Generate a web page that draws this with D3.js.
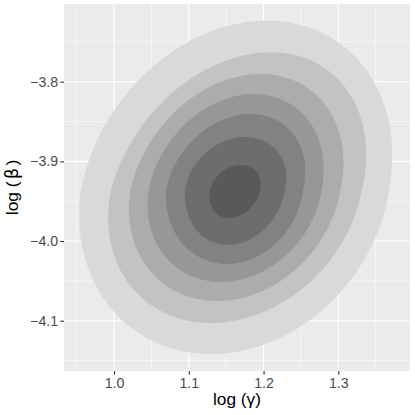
<!DOCTYPE html>
<html><head><meta charset="utf-8">
<script src="https://cdn.jsdelivr.net/npm/d3@7"></script>
<style>html,body{margin:0;padding:0;background:#fff;}</style>
</head><body>
<script>
// ---- data ----
const xTicks = [1.0, 1.1, 1.2, 1.3];
const yTicks = [-3.8, -3.9, -4.0, -4.1];
const xMinor = [0.95, 1.05, 1.15, 1.25, 1.35];
const yMinor = [-3.75, -3.85, -3.95, -4.05, -4.15];
const xTitle = "log (γ)";
const yTitle = "log (β)";
const levelFills = ["#d9d9d9","#c3c3c3","#acacac","#979797","#828282","#6d6d6d","#595959"];

// density contour levels, outermost first (data units): top-most point,
// bottom-most point, centre and half-width of the widest horizontal chord
const topX     = [1.2046, 1.2096, 1.1962, 1.1872, 1.1828, 1.1752, 1.1695];
const topY     = [-3.7234, -3.7631, -3.7903, -3.8154, -3.8405, -3.8694, -3.9046];
const bottomX  = [1.1297, 1.1297, 1.1378, 1.1431, 1.1511, 1.1525, 1.1538];
const bottomY  = [-4.1418, -4.1029, -4.0753, -4.0514, -4.0288, -4.0050, -3.9711];
const widestX  = [1.1618, 1.1632, 1.1624, 1.1621, 1.1618, 1.1625, 1.1621];
const widestY  = [-3.9359, -3.9384, -3.9359, -3.9359, -3.9334, -3.9322, -3.9359];
const halfWidth = [0.2060, 0.1678, 0.1404, 0.1157, 0.0916, 0.0669, 0.0334];

// ---- layout ----
const W = 415, H = 415;
const m = {left: 64, right: 5, top: 4, bottom: 44};
const pw = W - m.left - m.right, ph = H - m.top - m.bottom;

const x = d3.scaleLinear().domain([0.9331, 1.3959]).range([0, pw]);
const y = d3.scaleLinear().domain([-4.1631, -3.7025]).range([ph, 0]);

const svg = d3.select("body").append("svg").attr("width", W).attr("height", H)
  .style("font-family", "Liberation Sans, Arial, sans-serif");
const g = svg.append("g").attr("transform", `translate(${m.left},${m.top})`);

svg.append("defs").append("clipPath").attr("id","clip")
  .append("rect").attr("width", pw).attr("height", ph);

g.append("rect").attr("width", pw).attr("height", ph).attr("fill", "#ebebeb");

const grid = g.append("g");
grid.selectAll(".xm").data(xMinor).join("line")
  .attr("x1", d => x(d)).attr("x2", d => x(d)).attr("y1", 0).attr("y2", ph)
  .attr("stroke", "#fff").attr("stroke-width", 0.55);
grid.selectAll(".ym").data(yMinor).join("line")
  .attr("y1", d => y(d)).attr("y2", d => y(d)).attr("x1", 0).attr("x2", pw)
  .attr("stroke", "#fff").attr("stroke-width", 0.55);
grid.selectAll(".xM").data(xTicks).join("line")
  .attr("x1", d => x(d)).attr("x2", d => x(d)).attr("y1", 0).attr("y2", ph)
  .attr("stroke", "#fff").attr("stroke-width", 1.1);
grid.selectAll(".yM").data(yTicks).join("line")
  .attr("y1", d => y(d)).attr("y2", d => y(d)).attr("x1", 0).attr("x2", pw)
  .attr("stroke", "#fff").attr("stroke-width", 1.1);

// outline of one level: horizontal chords, half-elliptic above and below
// the widest chord, centred on the path top point -> widest centre -> bottom point
function outline(i) {
  const pts = [];
  const n = 144;
  const hTop = topY[i] - widestY[i], hBot = widestY[i] - bottomY[i];
  for (let k = 0; k < n; k++) {
    const a = -Math.PI / 2 + 2 * Math.PI * k / n;
    const v = Math.sin(a);
    let yv, c;
    if (v < 0) {
      yv = widestY[i] - v * hTop;
      c = widestX[i] + (topX[i] - widestX[i]) * (-v);
    } else {
      yv = widestY[i] - v * hBot;
      c = widestX[i] + (bottomX[i] - widestX[i]) * v;
    }
    pts.push([c + halfWidth[i] * Math.cos(a), yv]);
  }
  return pts;
}

const line = d3.line().x(d => x(d[0])).y(d => y(d[1])).curve(d3.curveLinearClosed);
g.append("g").attr("clip-path", "url(#clip)")
  .selectAll("path").data(d3.range(topX.length)).join("path")
  .attr("d", i => line(outline(i)))
  .attr("fill", i => levelFills[i]);

const fmt = d3.format(".1f");
const xAxis = g.append("g").attr("transform", `translate(0,${ph})`)
  .call(d3.axisBottom(x).tickValues(xTicks).tickFormat(fmt).tickSize(3.7).tickPadding(3.2));
const yAxis = g.append("g")
  .call(d3.axisLeft(y).tickValues(yTicks).tickFormat(fmt).tickSize(3.7).tickPadding(2.2));
[xAxis, yAxis].forEach(a => {
  a.select(".domain").remove();
  a.selectAll(".tick line").attr("stroke", "#333333").attr("stroke-width", 1.1);
  a.selectAll(".tick text").attr("fill", "#4d4d4d").style("font-size", "14.2px")
    .style("font-family", "Liberation Sans, Arial, sans-serif");
});

svg.append("text").attr("x", m.left + pw / 2).attr("y", 405)
  .attr("text-anchor", "middle").style("font-size", "17.3px").attr("fill", "#000")
  .text(xTitle);
const yt = svg.append("text").attr("transform", `translate(18,${m.top + ph / 2}) rotate(-90)`)
  .attr("text-anchor", "middle").style("font-size", "17.3px").attr("fill", "#000");
yt.append("tspan").text(yTitle.slice(0, 5));
yt.append("tspan").attr("dx", 2.5).style("font-family", "DejaVu Sans").text(yTitle.slice(5, 6));
yt.append("tspan").attr("dx", 2.5).text(yTitle.slice(6));
</script>
</body></html>
